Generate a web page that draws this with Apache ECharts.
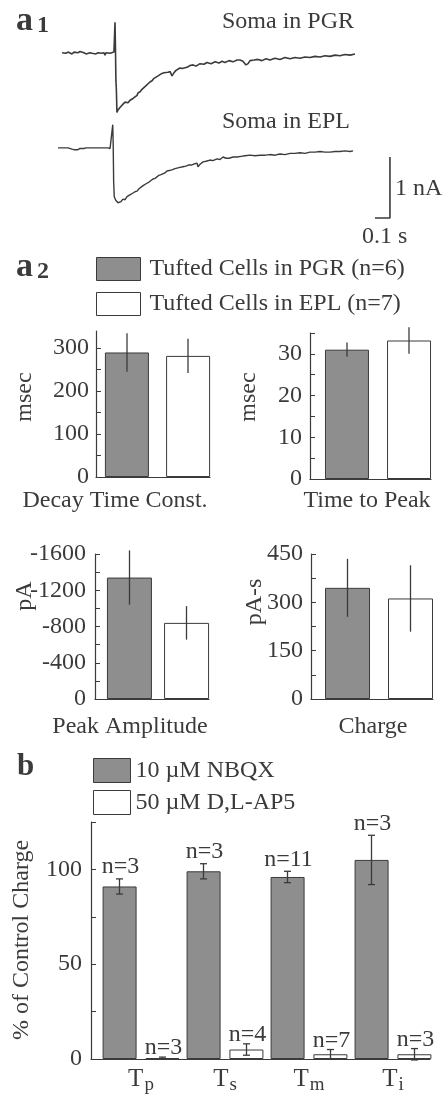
<!DOCTYPE html>
<html>
<head>
<meta charset="utf-8">
<script src="https://cdn.jsdelivr.net/npm/echarts@6/dist/echarts.min.js"></script>
<style>
  html, body { margin: 0; padding: 0; background: #ffffff; }
  #chart { width: 448px; height: 1107px; }
</style>
</head>
<body>
<div id="chart"></div>
<script>
// ---- a1: example whole-cell currents, [time (s) from stimulus, current (nA)] ----
const pgrTrace = [
  [-0.353, 0.00], [-0.34, 0.01], [-0.327, -0.01], [-0.313, 0.01], [-0.3, 0.00], [-0.287, -0.02],
  [-0.273, 0.01], [-0.26, -0.01], [-0.247, 0.00], [-0.233, 0.02], [-0.22, -0.01], [-0.207, 0.00],
  [-0.193, -0.02], [-0.18, 0.01], [-0.167, 0.00], [-0.153, -0.01], [-0.14, 0.01], [-0.127, -0.02],
  [-0.113, 0.00], [-0.1, 0.01], [-0.087, -0.01], [-0.073, 0.00], [-0.067, -0.04], [-0.06, 0.00],
  [-0.047, 0.01], [-0.033, -0.01], [-0.02, 0.00], [-0.007, 0.01], [0, 0.50], [0.003, 0.10],
  [0.006, -0.45], [0.009, -0.60], [0.013, -0.98], [0.02, -0.94], [0.027, -0.96], [0.033, -0.90],
  [0.04, -0.91], [0.047, -0.86], [0.053, -0.83], [0.06, -0.85], [0.067, -0.81], [0.073, -0.83],
  [0.08, -0.80], [0.087, -0.82], [0.1, -0.78], [0.113, -0.79], [0.12, -0.75], [0.133, -0.73],
  [0.147, -0.70], [0.153, -0.66], [0.167, -0.64], [0.18, -0.60], [0.193, -0.58], [0.207, -0.54],
  [0.22, -0.52], [0.233, -0.48], [0.247, -0.46], [0.26, -0.42], [0.273, -0.41], [0.287, -0.38],
  [0.3, -0.37], [0.313, -0.34], [0.327, -0.33], [0.34, -0.30], [0.353, -0.32], [0.367, -0.31],
  [0.38, -0.38], [0.387, -0.40], [0.393, -0.33], [0.407, -0.29], [0.42, -0.27], [0.433, -0.25],
  [0.447, -0.26], [0.46, -0.23], [0.48, -0.24], [0.5, -0.21], [0.52, -0.20], [0.54, -0.22],
  [0.567, -0.18], [0.593, -0.19], [0.613, -0.16], [0.64, -0.18], [0.667, -0.15], [0.693, -0.17],
  [0.713, -0.14], [0.733, -0.16], [0.76, -0.13], [0.787, -0.15], [0.813, -0.12], [0.833, -0.12],
  [0.853, -0.14], [0.873, -0.20], [0.887, -0.18], [0.9, -0.13], [0.927, -0.12], [0.953, -0.11],
  [0.98, -0.13], [1.007, -0.10], [1.033, -0.12], [1.067, -0.09], [1.1, -0.11], [1.133, -0.08],
  [1.167, -0.10], [1.2, -0.08], [1.233, -0.09], [1.267, -0.07], [1.3, -0.08], [1.333, -0.06],
  [1.367, -0.07], [1.4, -0.05], [1.433, -0.06], [1.467, -0.04], [1.5, -0.05], [1.533, -0.03],
  [1.567, -0.04], [1.6, -0.02]
];
const eplTrace = [
  [-0.38, 0.00], [-0.367, 0.01], [-0.353, 0.00], [-0.34, 0.01], [-0.327, 0.00], [-0.313, 0.00],
  [-0.3, -0.01], [-0.287, -0.02], [-0.273, -0.03], [-0.26, -0.02], [-0.247, -0.03], [-0.233, -0.01],
  [-0.22, 0.00], [-0.207, -0.01], [-0.193, 0.00], [-0.18, 0.01], [-0.167, 0.00], [-0.153, 0.00],
  [-0.14, 0.01], [-0.127, 0.00], [-0.113, 0.00], [-0.1, 0.01], [-0.087, 0.00], [-0.073, 0.00],
  [-0.06, 0.01], [-0.047, 0.00], [-0.033, -0.01], [-0.02, -0.02], [-0.015, 0.38], [-0.012, 0.05],
  [-0.009, -0.55], [-0.005, -0.80], [0.005, -0.86], [0.02, -0.90], [0.03, -0.87], [0.04, -0.88],
  [0.053, -0.84], [0.067, -0.85], [0.08, -0.80], [0.093, -0.79], [0.107, -0.76], [0.12, -0.75],
  [0.133, -0.72], [0.147, -0.71], [0.16, -0.67], [0.173, -0.66], [0.187, -0.62], [0.2, -0.61],
  [0.213, -0.58], [0.227, -0.56], [0.24, -0.55], [0.253, -0.51], [0.267, -0.50], [0.28, -0.48],
  [0.293, -0.45], [0.307, -0.44], [0.32, -0.41], [0.333, -0.41], [0.347, -0.38], [0.36, -0.37],
  [0.38, -0.36], [0.4, -0.34], [0.413, -0.35], [0.433, -0.32], [0.453, -0.31], [0.473, -0.30],
  [0.493, -0.28], [0.513, -0.28], [0.533, -0.26], [0.547, -0.25], [0.553, -0.31], [0.567, -0.27],
  [0.587, -0.23], [0.607, -0.22], [0.633, -0.20], [0.653, -0.21], [0.68, -0.18], [0.7, -0.19],
  [0.72, -0.15], [0.74, -0.17], [0.76, -0.17], [0.787, -0.15], [0.813, -0.15], [0.84, -0.14],
  [0.867, -0.13], [0.9, -0.12], [0.933, -0.13], [0.967, -0.12], [1.0, -0.12], [1.033, -0.11],
  [1.067, -0.12], [1.1, -0.10], [1.133, -0.11], [1.167, -0.09], [1.2, -0.09], [1.233, -0.08],
  [1.267, -0.09], [1.3, -0.07], [1.333, -0.07], [1.367, -0.06], [1.4, -0.07], [1.433, -0.07],
  [1.467, -0.06], [1.5, -0.06], [1.533, -0.05], [1.567, -0.06], [1.587, -0.05]
];
const scaleBarCurrent = 1;   // nA
const scaleBarTime = 0.1;    // s

// ---- a2: tufted cell group statistics (mean, s.e.m.) ----
const groupNames = ['Tufted Cells in PGR (n=6)', 'Tufted Cells in EPL (n=7)'];
const decayMean = [290, 282];        // msec
const decayErr = [45, 40];
const timeToPeakMean = [31, 33.2];   // msec
const timeToPeakErr = [1.7, 3.2];
const amplitudeMean = [-1340, -840]; // pA
const amplitudeErr = [300, 185];
const chargeMean = [345, 312];       // pA-s
const chargeErr = [90, 103];

// ---- b: charge remaining in each antagonist, % of control ----
const drugNames = ['10 µM NBQX', '50 µM D,L-AP5'];
const cellTypes = ['Tp', 'Ts', 'Tm', 'Ti'];
const nbqxMean = [91, 99, 96, 105];
const nbqxErr = [4, 4, 3, 13];
const nbqxN = [3, 3, 11, 3];
const ap5Mean = [0.5, 5, 2.5, 2.5];
const ap5Err = [0.5, 3, 2.5, 3];
const ap5N = [3, 4, 7, 3];

// ---- styling ----
const INK = '#3b3b3b';
const GRAY = '#8e8e8e';
const FONT = "'Liberation Serif', 'Times New Roman', serif";
const TEXT_SIZE = 24;

const grids = [], xAxes = [], yAxes = [], series = [];

// trace panel: invisible axes, 150 px per second and 61 px per nA
const traceOffset = { pgr: 0, epl: -1.56 };
grids.push({ left: 40, top: 10, width: 360, height: 219.6 });
xAxes.push({ gridIndex: 0, type: 'value', min: -0.5, max: 1.9, show: false });
yAxes.push({ gridIndex: 0, type: 'value', min: -2.9, max: 0.7, show: false });
series.push({
  type: 'line', xAxisIndex: 0, yAxisIndex: 0, showSymbol: false, silent: true,
  lineStyle: { color: INK, width: 1.6 }, data: pgrTrace.map(([t, v]) => [t, v + traceOffset.pgr])
});
series.push({
  type: 'line', xAxisIndex: 0, yAxisIndex: 0, showSymbol: false, silent: true,
  lineStyle: { color: INK, width: 1.4 }, data: eplTrace.map(([t, v]) => [t, v + traceOffset.epl])
});
// calibration bar, corner placed below the right end of the traces
const barCorner = [1.833, -2.71];
series.push({
  type: 'line', xAxisIndex: 0, yAxisIndex: 0, showSymbol: false, silent: true,
  lineStyle: { color: INK, width: 1.6 },
  data: [
    [barCorner[0] - scaleBarTime, barCorner[1]],
    barCorner,
    [barCorner[0], barCorner[1] + scaleBarCurrent]
  ]
});

function errorBars(barWidth, gap, side, cap, labelLift) {
  return function (params, api) {
    const c = api.value(0), m = api.value(1), e = api.value(2), n = api.value(3);
    const hi = api.coord([c, m + e]);
    const lo = api.coord([c, m - e]);
    const x = hi[0] + side * (barWidth + gap) / 2;
    const yTop = Math.min(hi[1], lo[1]);
    const yBot = Math.max(hi[1], lo[1]);
    const st = { stroke: INK, lineWidth: 1.3 };
    const children = [{ type: 'line', shape: { x1: x, y1: yTop, x2: x, y2: yBot }, style: st }];
    if (cap) {
      children.push({ type: 'line', shape: { x1: x - cap, y1: yTop, x2: x + cap, y2: yTop }, style: st });
      children.push({ type: 'line', shape: { x1: x - cap, y1: yBot, x2: x + cap, y2: yBot }, style: st });
    }
    if (n) {
      children.push({
        type: 'text', x: x + 1, y: yTop - labelLift,
        style: {
          text: 'n=' + n, fill: INK, fontSize: TEXT_SIZE, fontFamily: FONT,
          align: 'center', verticalAlign: 'middle', textAlign: 'center', textVerticalAlign: 'middle'
        }
      });
    }
    return { type: 'group', children };
  };
}

function addPanel(p) {
  // frame grid: axis lines, ticks and tick labels
  const fi = grids.length;
  grids.push({ left: p.axisX, top: p.top, width: p.axisW, height: p.height });
  xAxes.push({
    gridIndex: fi, type: 'value', min: 0, max: 1,
    axisLine: { show: true, lineStyle: { color: INK, width: 1.2 } },
    axisTick: { show: false }, axisLabel: { show: false }, splitLine: { show: false }
  });
  yAxes.push({
    gridIndex: fi, type: 'value', min: p.min, max: p.max, inverse: !!p.inverse, interval: p.tickStep,
    axisLine: { show: true, lineStyle: { color: INK, width: 1.2 } },
    axisTick: { show: true, inside: true, length: 5, lineStyle: { color: INK, width: 1 }, customValues: p.ticks },
    axisLabel: {
      fontSize: 24, color: INK, fontFamily: FONT, margin: p.labelMargin, customValues: p.labels,
      formatter: v => (p.labels.indexOf(v) >= 0 ? String(v) : '')
    },
    splitLine: { show: false }
  });
  // data grid: bars and error bars
  const di = grids.length;
  grids.push({ left: p.barX, top: p.top, width: p.barSpan, height: p.height });
  const cat = {
    gridIndex: di, type: 'category', data: p.categories,
    axisLine: { show: false }, axisTick: { show: false }, splitLine: { show: false },
    axisLabel: { show: false }
  };
  if (p.categoryLabel) cat.axisLabel = p.categoryLabel;
  xAxes.push(cat);
  yAxes.push({ gridIndex: di, type: 'value', min: p.min, max: p.max, inverse: !!p.inverse, show: false });
  p.groups.forEach(g => {
    series.push({
      type: 'bar', name: g.name, xAxisIndex: di, yAxisIndex: di, data: g.mean,
      barWidth: p.barWidth, barGap: p.barGap, silent: true,
      itemStyle: { color: g.fill, borderColor: INK, borderWidth: 1 }
    });
  });
  p.groups.forEach((g, k) => {
    series.push({
      type: 'custom', xAxisIndex: di, yAxisIndex: di, silent: true, z: 3, clip: false,
      data: g.mean.map((m, i) => [i, m, g.err[i], g.n ? g.n[i] : 0]),
      encode: { x: 0, y: 1 },
      renderItem: errorBars(p.barWidth, p.gapPx, k === 0 ? -1 : 1, p.cap, g.labelLift || 0)
    });
  });
}

const step = (a, b, s) => { const r = []; for (let v = a; v <= b + 1e-9; v += s) r.push(v); return r; };

addPanel({
  axisX: 96, axisW: 114, top: 331, height: 146, min: 0, max: 340, tickStep: 50,
  ticks: step(0, 300, 50), labels: [0, 100, 200, 300], labelMargin: 7,
  barX: 105, barSpan: 105, barWidth: 44, barGap: '39%', gapPx: 17, categories: ['Decay'],
  groups: [
    { name: groupNames[0], mean: [decayMean[0]], err: [decayErr[0]], fill: GRAY },
    { name: groupNames[1], mean: [decayMean[1]], err: [decayErr[1]], fill: '#ffffff' }
  ]
});
addPanel({
  axisX: 310, axisW: 121, top: 333, height: 146, min: 0, max: 35, tickStep: 5,
  ticks: step(0, 35, 5), labels: [0, 10, 20, 30], labelMargin: 8,
  barX: 325, barSpan: 106, barWidth: 44, barGap: '41%', gapPx: 18, categories: ['Peak time'],
  groups: [
    { name: groupNames[0], mean: [timeToPeakMean[0]], err: [timeToPeakErr[0]], fill: GRAY },
    { name: groupNames[1], mean: [timeToPeakMean[1]], err: [timeToPeakErr[1]], fill: '#ffffff' }
  ]
});
addPanel({
  axisX: 95, axisW: 114, top: 554, height: 145, min: -1600, max: 0, inverse: true, tickStep: 200,
  ticks: step(-1600, 0, 200), labels: [0, -400, -800, -1200, -1600], labelMargin: 9,
  barX: 107, barSpan: 102, barWidth: 45, barGap: '27%', gapPx: 12, categories: ['Amplitude'],
  groups: [
    { name: groupNames[0], mean: [amplitudeMean[0]], err: [amplitudeErr[0]], fill: GRAY },
    { name: groupNames[1], mean: [amplitudeMean[1]], err: [amplitudeErr[1]], fill: '#ffffff' }
  ]
});
addPanel({
  axisX: 311, axisW: 122, top: 554, height: 145, min: 0, max: 450, tickStep: 75,
  ticks: step(0, 450, 75), labels: [0, 150, 300, 450], labelMargin: 8,
  barX: 325, barSpan: 108, barWidth: 45, barGap: '40%', gapPx: 18, categories: ['Charge'],
  groups: [
    { name: groupNames[0], mean: [chargeMean[0]], err: [chargeErr[0]], fill: GRAY },
    { name: groupNames[1], mean: [chargeMean[1]], err: [chargeErr[1]], fill: '#ffffff' }
  ]
});
addPanel({
  axisX: 91, axisW: 339, top: 822, height: 237, min: 0, max: 125, tickStep: 25,
  ticks: step(0, 125, 25), labels: [0, 50, 100], labelMargin: 9,
  barX: 99, barSpan: 336, barWidth: 34, barGap: '26%', gapPx: 9, cap: 3.5, categories: cellTypes,
  categoryLabel: {
    show: true, margin: 8, color: INK, fontFamily: FONT,
    formatter: v => `{t|${v.charAt(0)}}{s|${v.slice(1)}}`,
    rich: {
      t: { fontSize: 25, fontFamily: FONT, color: INK, verticalAlign: 'top' },
      s: { fontSize: 19, fontFamily: FONT, color: INK, verticalAlign: 'top', padding: [9, 0, 0, 1] }
    }
  },
  groups: [
    { name: drugNames[0], mean: nbqxMean, err: nbqxErr, n: nbqxN, fill: GRAY, labelLift: 12 },
    { name: drugNames[1], mean: ap5Mean, err: ap5Err, n: ap5N, fill: '#ffffff', labelLift: 9 }
  ]
});

function txt(text, x, y, o = {}) {
  return {
    type: 'text', x, y, rotation: o.rotate || 0, silent: true, z: 10,
    style: {
      text, fill: INK, fontSize: o.size || TEXT_SIZE, fontFamily: FONT, fontWeight: o.weight || 'normal',
      align: o.align || 'left', verticalAlign: 'middle',
      textAlign: o.align || 'left', textVerticalAlign: 'middle'
    }
  };
}
const up = Math.PI / 2;

const legendBase = {
  orient: 'vertical', icon: 'rect', selectedMode: false, padding: 0,
  itemStyle: { borderColor: INK, borderWidth: 1 },
  textStyle: { fontSize: TEXT_SIZE, fontFamily: FONT, color: INK }
};

const option = {
  animation: false,
  backgroundColor: '#ffffff',
  textStyle: { fontFamily: FONT },
  grid: grids,
  xAxis: xAxes,
  yAxis: yAxes,
  legend: [
    Object.assign({}, legendBase, {
      data: groupNames, left: 96, top: 257, itemWidth: 44, itemHeight: 23, itemGap: 11,
      textStyle: { fontSize: TEXT_SIZE, fontFamily: FONT, color: INK, padding: [0, 0, 0, 4] }
    }),
    Object.assign({}, legendBase, {
      data: drugNames, left: 93, top: 758, itemWidth: 37, itemHeight: 24, itemGap: 7
    })
  ],
  series: series,
  graphic: [
    txt('a', 16, 21, { size: 34, weight: 'bold' }),
    txt('1', 37, 26, { size: 24, weight: 'bold' }),
    txt('Soma in PGR', 222, 22),
    txt('Soma in EPL', 222, 122),
    txt('1 nA', 395, 189),
    txt('0.1 s', 362, 237),
    txt('a', 16, 267, { size: 34, weight: 'bold' }),
    txt('2', 37, 272, { size: 24, weight: 'bold' }),
    txt('msec', 25, 397, { rotate: up, align: 'center' }),
    txt('msec', 249, 397, { rotate: up, align: 'center' }),
    txt('Decay Time Const.', 115, 501, { align: 'center' }),
    txt('Time to Peak', 367, 501, { align: 'center' }),
    txt('pA', 25, 596, { rotate: up, align: 'center' }),
    txt('pA-s', 255, 602, { rotate: up, align: 'center' }),
    txt('Peak Amplitude', 130, 727, { align: 'center' }),
    txt('Charge', 373, 727, { align: 'center' }),
    txt('b', 17, 767, { size: 31, weight: 'bold' }),
    txt('% of Control Charge', 22, 940, { rotate: up, align: 'center' })
  ]
};

const chart = echarts.init(document.getElementById('chart'), null, { renderer: 'canvas' });
chart.setOption(option);
</script>
</body>
</html>
